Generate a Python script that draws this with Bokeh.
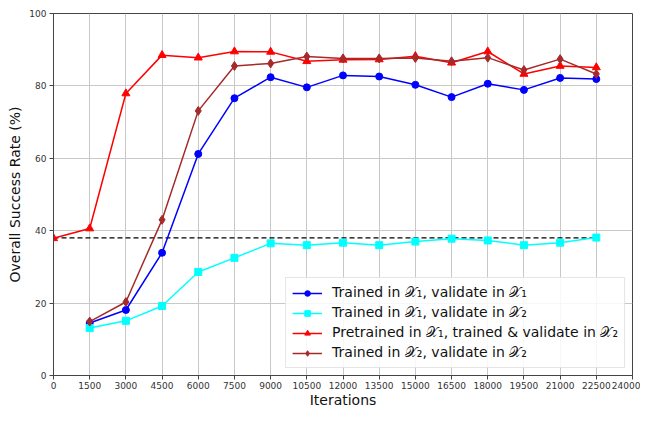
from bokeh.plotting import figure
from bokeh.models import FixedTicker, Range1d, Legend, LegendItem
from bokeh.embed import file_html
from bokeh.resources import INLINE

iters = [1500, 3000, 4500, 6000, 7500, 9000, 10500, 12000, 13500, 15000,
         16500, 18000, 19500, 21000, 22500]
iters_pre = [0] + iters

blue_vals = [14.5, 18.1, 33.9, 61.2, 76.6, 82.4, 79.6, 82.9, 82.6, 80.3,
             76.9, 80.6, 78.9, 82.2, 81.9]
cyan_vals = [13.1, 15.1, 19.2, 28.6, 32.5, 36.5, 36.0, 36.7, 36.0, 37.0,
             37.8, 37.3, 36.0, 36.7, 38.1]
red_vals = [37.9, 40.6, 77.9, 88.5, 87.8, 89.5, 89.4, 86.8, 87.2, 87.3, 88.2,
            86.4, 89.5, 83.3, 85.5, 85.1]
brown_vals = [14.9, 20.3, 43.0, 73.1, 85.5, 86.2, 88.1, 87.6, 87.6, 87.7,
              86.8, 87.8, 84.4, 87.4, 83.3]
baseline = 38.0
baseline_x = [0, 22500]

x_ticks = list(range(0, 24001, 1500))
y_ticks = [0, 20, 40, 60, 80, 100]

labels = [
    "Trained in 𝒳₁, validate in 𝒳₁",
    "Trained in 𝒳₁, validate in 𝒳₂",
    "Pretrained in 𝒳₁, trained & validate in 𝒳₂",
    "Trained in 𝒳₂, validate in 𝒳₂",
]

FONT = "DejaVu Sans"

p = figure(width=640, height=410, output_backend="svg", toolbar_location=None,
           x_range=Range1d(0, 24000), y_range=Range1d(0, 100),
           min_border_left=53, min_border_top=13, min_border_right=8,
           min_border_bottom=20)
p.background_fill_color = "white"
p.border_fill_color = "white"
p.outline_line_color = "#444444"
p.outline_line_width = 1

for ax in (p.xaxis[0], p.yaxis[0]):
    ax.axis_line_color = "#444444"
    ax.major_tick_line_color = "#444444"
    ax.major_tick_out = 4
    ax.major_tick_in = 0
    ax.minor_tick_line_color = None
    ax.major_label_text_font = FONT
    ax.major_label_text_font_size = "9px"
    ax.major_label_text_color = "#333333"
    ax.axis_label_text_font = FONT
    ax.axis_label_text_font_size = "14px"
    ax.axis_label_text_font_style = "normal"
    ax.axis_label_text_color = "#111111"

p.xaxis.ticker = FixedTicker(ticks=x_ticks)
p.yaxis.ticker = FixedTicker(ticks=y_ticks)
p.xaxis.axis_label = "Iterations"
p.yaxis.axis_label = "Overall Success Rate (%)"
p.xaxis.axis_label_standoff = 0
p.yaxis.axis_label_standoff = 3
p.xaxis.major_label_standoff = 2
p.yaxis.major_label_standoff = 3

p.xgrid.ticker = FixedTicker(ticks=x_ticks)
p.ygrid.ticker = FixedTicker(ticks=y_ticks)
p.grid.grid_line_color = "#c8c8c8"
p.grid.grid_line_width = 1

p.line(baseline_x, [baseline, baseline], line_color="black", line_dash="5 3",
       line_width=1.3)

r_blue_l = p.line(iters, blue_vals, line_color="blue", line_width=1.5)
r_blue_m = p.scatter(iters, blue_vals, marker="circle", size=7,
                     fill_color="blue", line_color="blue")
r_cyan_l = p.line(iters, cyan_vals, line_color="cyan", line_width=1.5)
r_cyan_m = p.scatter(iters, cyan_vals, marker="square", size=7,
                     fill_color="cyan", line_color="cyan")
r_red_l = p.line(iters_pre, red_vals, line_color="red", line_width=1.5)
r_red_m = p.scatter(iters_pre, red_vals, marker="triangle", size=8,
                    fill_color="red", line_color="red")
r_brown_l = p.line(iters, brown_vals, line_color="brown", line_width=1.5)
r_brown_m = p.scatter(iters, brown_vals, marker="diamond", size=9,
                      fill_color="brown", line_color="brown")

legend = Legend(items=[
    LegendItem(label=labels[0], renderers=[r_blue_l, r_blue_m]),
    LegendItem(label=labels[1], renderers=[r_cyan_l, r_cyan_m]),
    LegendItem(label=labels[2], renderers=[r_red_l, r_red_m]),
    LegendItem(label=labels[3], renderers=[r_brown_l, r_brown_m]),
], location="bottom_right")
legend.label_text_font = FONT
legend.label_text_font_size = "14px"
legend.label_text_color = "#111111"
legend.glyph_width = 30
legend.glyph_height = 14
legend.label_standoff = 10
legend.spacing = 3
legend.padding = 6
legend.margin = 7
legend.border_line_color = "#cccccc"
legend.background_fill_color = "white"
legend.background_fill_alpha = 0.85
p.add_layout(legend, "center")

open("out.html", "w").write(file_html(p, INLINE))
